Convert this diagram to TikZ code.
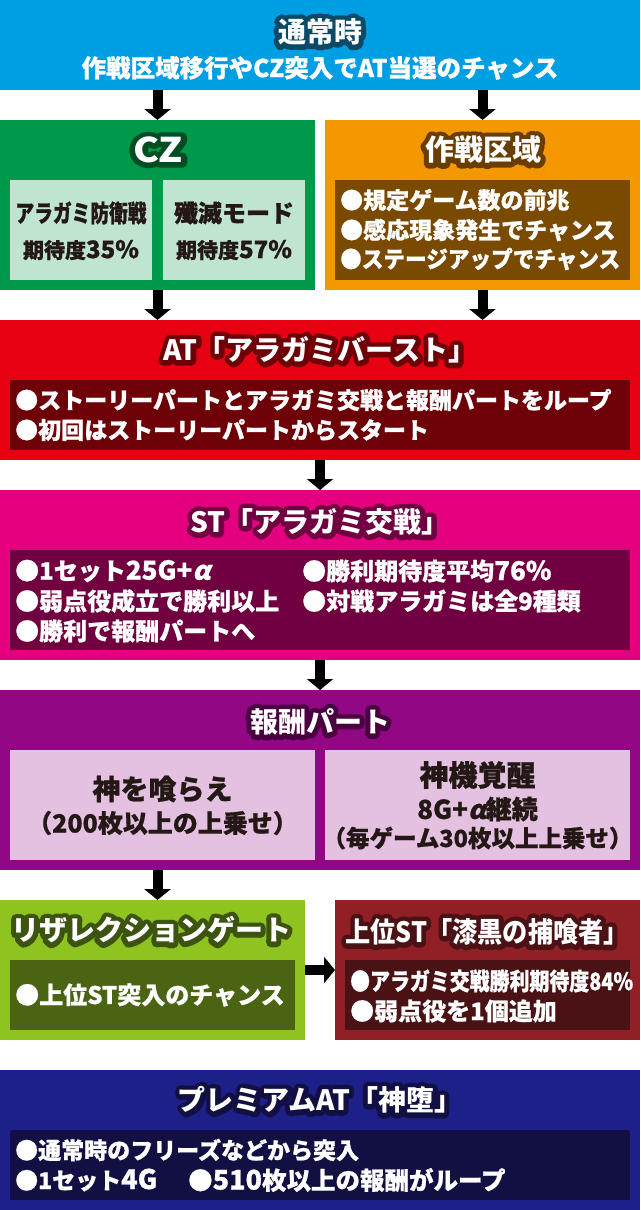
\documentclass[tikz,border=0pt]{standalone}
\usepackage{fontspec}
\setmainfont{Noto Sans CJK JP}
\newfontfamily\hv{Noto Sans CJK JP}[BoldFeatures={FakeBold=0.8}]
\newfontfamily\slfam{Noto Sans CJK JP}[FakeSlant=0.25,BoldFeatures={FakeBold=0.8}]
\usetikzlibrary{arrows.meta}
\newcommand\olt[2]{\leavevmode\rlap{\special{pdf:literal direct 1 Tr 1 j 1 J 10 w}\textcolor{#1}{#2}\special{pdf:literal direct 0 Tr}}#2}
\newcommand\alp{{\slfam\bfseries α}}
\definecolor{cBlue}{HTML}{009FE3}
\definecolor{oBlue}{HTML}{0A4A66}
\definecolor{cGreen}{HTML}{00984A}
\definecolor{oGreen}{HTML}{004D23}
\definecolor{cLightGreen}{HTML}{BFE4D0}
\definecolor{cOrange}{HTML}{F39800}
\definecolor{cBrown}{HTML}{7A4A00}
\definecolor{oBrown}{HTML}{6A3C00}
\definecolor{cRed}{HTML}{E60012}
\definecolor{cRedIn}{HTML}{6E0008}
\definecolor{cMagenta}{HTML}{E4007F}
\definecolor{cMagIn}{HTML}{700040}
\definecolor{cPurple}{HTML}{920783}
\definecolor{oPurple}{HTML}{4A0040}
\definecolor{cLavender}{HTML}{E4C1E0}
\definecolor{cLime}{HTML}{8FC31F}
\definecolor{cOlive}{HTML}{4A6414}
\definecolor{oOlive}{HTML}{3C5410}
\definecolor{cMaroon}{HTML}{912026}
\definecolor{cMaroonIn}{HTML}{4A1214}
\definecolor{cNavy}{HTML}{1D2088}
\definecolor{cNavyIn}{HTML}{121042}
\definecolor{cInk}{HTML}{231815}
\begin{document}
\begin{tikzpicture}[x=1pt,y=-1pt,
  box/.style={anchor=north west, inner sep=0pt, outer sep=0pt, draw=none},
  ttl/.style={text=white, inner sep=0pt, font=\bfseries\fontsize{28pt}{28pt}\selectfont},
  line/.style={text=white, anchor=west, inner sep=0pt, font=\hv\bfseries\fontsize{23pt}{23pt}\selectfont},
  bigline/.style={line, font=\hv\bfseries\fontsize{24pt}{24pt}\selectfont},
  ink/.style={text=cInk, inner sep=0pt, font=\hv\bfseries\fontsize{24pt}{24pt}\selectfont},
  arr/.style={line width=10pt, black, -{Triangle[width=26pt,length=11pt]}}]
\useasboundingbox (0,0) rectangle (640,1210);
% boxes
\node[box, fill=cBlue, minimum width=640pt, minimum height=90pt] (normal) at (0,0) {};
\node[box, fill=cGreen, minimum width=315pt, minimum height=170pt] (cz) at (0,120) {};
\node[box, fill=cOrange, minimum width=315pt, minimum height=170pt] (sak) at (325,120) {};
\node[box, fill=cLightGreen, minimum width=142pt, minimum height=100pt] (czA) at (10,180) {};
\node[box, fill=cLightGreen, minimum width=142pt, minimum height=100pt] (czB) at (163,180) {};
\node[box, fill=cBrown, minimum width=295pt, minimum height=100pt] (sakIn) at (335,180) {};
\node[box, fill=cRed, minimum width=640pt, minimum height=140pt] (atbox) at (0,320) {};
\node[box, fill=cRedIn, minimum width=620pt, minimum height=70pt] (atIn) at (10,380) {};
\node[box, fill=cMagenta, minimum width=640pt, minimum height=170pt] (stbox) at (0,490) {};
\node[box, fill=cMagIn, minimum width=620pt, minimum height=100pt] (stIn) at (10,550) {};
\node[box, fill=cPurple, minimum width=640pt, minimum height=180pt] (hou) at (0,690) {};
\node[box, fill=cLavender, minimum width=305pt, minimum height=110pt] (houA) at (10,750) {};
\node[box, fill=cLavender, minimum width=305pt, minimum height=110pt] (houB) at (325,750) {};
\node[box, fill=cLime, minimum width=305pt, minimum height=140pt] (res) at (0,900) {};
\node[box, fill=cOlive, minimum width=285pt, minimum height=70pt] (resIn) at (10,960) {};
\node[box, fill=cMaroon, minimum width=305pt, minimum height=140pt] (jou) at (335,900) {};
\node[box, fill=cMaroonIn, minimum width=285pt, minimum height=70pt] (jouIn) at (345,960) {};
\node[box, fill=cNavy, minimum width=640pt, minimum height=140pt] (pre) at (0,1070) {};
\node[box, fill=cNavyIn, minimum width=620pt, minimum height=70pt] (preIn) at (10,1130) {};
% arrows
\draw[arr] (cz.north |- normal.south) -- (cz.north);
\draw[arr] (sak.north |- normal.south) -- (sak.north);
\draw[arr] (cz.south) -- (cz.south |- atbox.north);
\draw[arr] (sak.south) -- (sak.south |- atbox.north);
\draw[arr] (atbox.south) -- (stbox.north);
\draw[arr] (stbox.south) -- (hou.north);
\draw[arr] ([xshift=5pt]res.north |- hou.south) -- ([xshift=5pt]res.north);
\draw[arr] (res.east) -- (jou.west);
% titles
\node[ttl] (tNormal) at (320,32) {\olt{oBlue}{通常時}};
\node[ttl] (tCz) at (158,150) {\fontsize{34pt}{34pt}\selectfont\scalebox{1.15}[1]{\olt{oGreen}{CZ}}};
\node[ttl] (tSak) at (483,150) {\fontsize{29pt}{29pt}\selectfont\olt{oBrown}{作戦区域}};
\node[ttl] (tAt) at (320,350) {\olt{cRedIn}{AT「アラガミバースト」}};
\node[ttl] (tSt) at (320,522) {\olt{cMagIn}{ST「アラガミ交戦」}};
\node[ttl] (tHou) at (320,722) {\olt{oPurple}{報酬パート}};
\node[ttl] (tRes) at (151,930) {\olt{oOlive}{リザレクションゲート}};
\node[ttl] (tJou) at (487,932) {\scalebox{0.9}[1]{\olt{cMaroonIn}{上位ST「漆黒の捕喰者」}}};
\node[ttl] (tPre) at (320,1100) {\olt{cNavyIn}{プレミアムAT「神堕」}};
\node[text=white, inner sep=0pt, font=\hv\bfseries\fontsize{24.5pt}{24.5pt}\selectfont] (tNormalSub) at (320,68) {作戦区域移行やCZ突入でAT当選のチャンス};
% CZ inner
\node[ink] (czA1) at (81,213) {\scalebox{0.78}[1]{アラガミ防衛戦}};
\node[ink] (czA2) at (81,250) {{\fontsize{21pt}{21pt}\selectfont 期待度}35\%};
\node[ink] (czB1) at (234,213) {殲滅モード};
\node[ink] (czB2) at (234,250) {{\fontsize{21pt}{21pt}\selectfont 期待度}57\%};
% 作戦区域 lines
\node[line] (sak1) at (340,200) {●規定ゲーム数の前兆};
\node[line] (sak2) at (340,230) {●感応現象発生でチャンス};
\node[line] (sak3) at (340,259) {\scalebox{0.94}[1]{●ステージアップでチャンス}};
% AT lines
\node[line] (at1) at (15,400) {●ストーリーパートとアラガミ交戦と報酬パートをループ};
\node[line] (at2) at (15,430) {●初回はストーリーパートからスタート};
% ST lines
\node[bigline] (st1) at (15,571) {●1セット{\fontsize{26pt}{26pt}\selectfont 25G+\alp}};
\node[bigline] (st2) at (15,601) {●弱点役成立で勝利以上};
\node[bigline] (st3) at (15,631) {●勝利で報酬パートへ};
\node[bigline] (st4) at (302,571) {●勝利期待度平均{\fontsize{26pt}{26pt}\selectfont 76\%}};
\node[bigline] (st5) at (302,601) {●対戦アラガミは全9種類};
% 報酬パート inner
\node[ink, font=\hv\bfseries\fontsize{28pt}{28pt}\selectfont] (houA1) at (162.5,789) {神を喰らえ};
\node[ink, font=\hv\bfseries\fontsize{25pt}{25pt}\selectfont] (houA2) at (162.5,823) {（200枚以上の上乗せ）};
\node[ink, font=\hv\bfseries\fontsize{29pt}{29pt}\selectfont] (houB1) at (477.5,775) {神機覚醒};
\node[ink, font=\hv\bfseries\fontsize{26pt}{26pt}\selectfont] (houB2) at (477.5,809) {8G+\alp 継続};
\node[ink, font=\hv\bfseries\fontsize{23.5pt}{23.5pt}\selectfont] (houB3) at (477.5,838) {（毎ゲーム30枚以上上乗せ）};
% lower lines
\node[bigline] (res1) at (15,995) {●上位ST突入のチャンス};
\node[bigline] (jou1) at (350,981) {\scalebox{0.83}[1]{●アラガミ交戦勝利期待度84\%}};
\node[bigline] (jou2) at (350,1011) {●弱点役を1個追加};
\node[line] (pre1) at (15,1150) {●通常時のフリーズなどから突入};
\node[line] (pre2) at (15,1180) {●1セット{\fontsize{27pt}{27pt}\selectfont 4G}};
\node[line, font=\hv\bfseries\fontsize{24.5pt}{24.5pt}\selectfont] (pre3) at (188,1180) {●{\fontsize{27pt}{27pt}\selectfont 510}枚以上の報酬がループ};
\end{tikzpicture}
\end{document}
